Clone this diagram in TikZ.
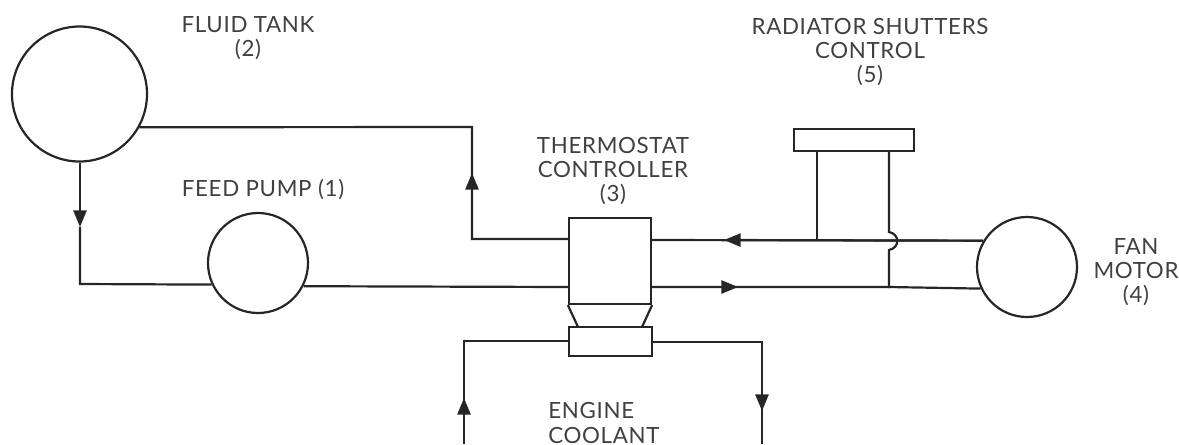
\documentclass[tikz,border=0pt]{standalone}
\usepackage{fontspec}
\setmainfont{Lato}
\usetikzlibrary{arrows.meta}
\tikzset{
  pipe/.style={line width=1.25pt,black!85,line join=miter},
  unit/.style={draw=black!85,line width=1.25pt,inner sep=0pt,minimum size=#1*0.02cm,circle},
  block/.style={draw=black!85,line width=1.25pt,inner sep=0pt,rectangle},
  caption/.style={align=center,inner sep=0pt,font=\fontsize{12.7pt}{13.7pt}\selectfont\addfontfeature{LetterSpace=3},text=black!75},
  flowtip/.style={-{Triangle[length=9.5pt,width=7.5pt]}}
}
\begin{document}
\begin{tikzpicture}[x=0.02cm,y=-0.02cm]
    \useasboundingbox (0,0) rectangle (1179,444);
    \node[unit=135] (tank) at (79.5,94) {};
    \node[unit=100] (pump) at (258,263) {};
    \node[unit=100] (fan) at (1027,267) {};
    \node[block,minimum width=82*0.02cm,minimum height=86*0.02cm] (therm) at (610,261) {};
    \node[block,minimum width=83*0.02cm,minimum height=29*0.02cm] (cool) at (610.5,341.5) {};
    \node[block,minimum width=120*0.02cm,minimum height=22*0.02cm] (shut) at (854,140) {};
    \node[caption] (tanktxt) at (248,38) {FLUID TANK\\(2)};
    \node[caption] (pumptxt) at (263,189) {FEED PUMP (1)};
    \node[caption] (thermtxt) at (613,171) {THERMOSTAT\\CONTROLLER\\(3)};
    \node[caption] (shuttxt) at (870,52) {RADIATOR SHUTTERS\\CONTROL\\(5)};
    \node[caption] (fantxt) at (1136,272) {FAN\\MOTOR\\(4)};
    \node[caption,align=left,anchor=west] (cooltxt) at (548,423) {ENGINE\\COOLANT};
    \coordinate (trL) at (578,327);
    \coordinate (trR) at (642,327);
    \coordinate (cnA) at (472,127);
    \coordinate (cnB) at (472,239);
    \coordinate (tipA) at (472,173);
    \coordinate (cnC) at (80,284);
    \coordinate (tipC) at (80,227);
    \coordinate (tipU) at (724,240);
    \coordinate (tipL) at (738,287);
    \coordinate (jnU) at (817,241);
    \coordinate (jnL) at (889,288);
    \coordinate (hmA) at (889,232);
    \coordinate (hmB) at (889,250);
    \coordinate (inL) at (464,444);
    \coordinate (tipI) at (464,398);
    \coordinate (cnI) at (464,341);
    \coordinate (inR) at (762,444);
    \coordinate (tipO) at (762,411);
    \coordinate (cnO) at (762,342);
    \draw[pipe] (therm.south west) -- (trL) (therm.south east) -- (trR);
    \draw[pipe] (tank.-29) -- (cnA) -- (cnB) -- (therm.west |- cnB);
    \draw[pipe,flowtip] (cnB) -- (tipA);
    \draw[pipe,flowtip] (tank.south -| cnC) -- (tipC);
    \draw[pipe] (tipC) -- (cnC) -- (pump.205);
    \draw[pipe] (pump.-27) -- (therm.west |- tipL);
    \draw[pipe] (therm.east |- tipL) -- (jnL |- tipL) -- (fan.205);
    \draw[pipe,flowtip] (therm.east |- tipL) -- (tipL);
    \draw[pipe] (fan.149) -- (therm.east |- tipU);
    \draw[pipe,flowtip] (fan.149) -- (tipU);
    \draw[pipe] (jnU |- shut.south) -- (jnU);
    \draw[pipe] (jnL |- shut.south) -- (hmA) .. controls (900,234) and (900,248) .. (hmB) -- (jnL);
    \draw[pipe] (cool.west |- cnI) -- (cnI) -- (inL);
    \draw[pipe,flowtip] (inL) -- (tipI);
    \draw[pipe] (cool.east |- cnO) -- (cnO) -- (inR);
    \draw[pipe,flowtip] (cnO) -- (tipO);
\end{tikzpicture}
\end{document}
